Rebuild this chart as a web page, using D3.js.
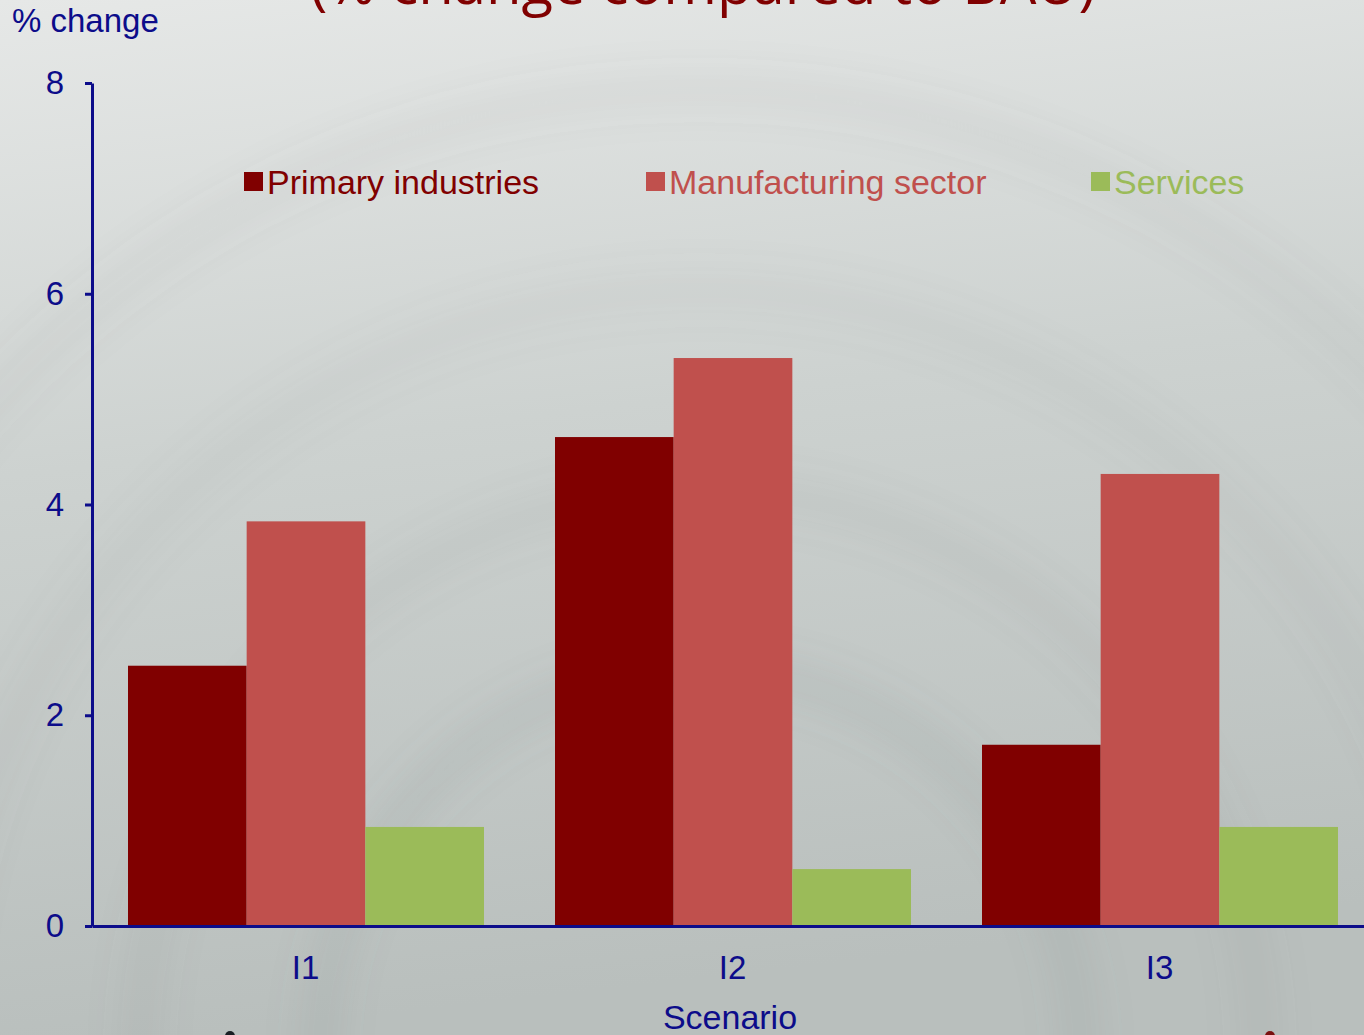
<!DOCTYPE html>
<html>
<head>
<meta charset="utf-8">
<script src="https://cdn.jsdelivr.net/npm/d3@7"></script>
<style>
  html, body { margin: 0; padding: 0; overflow: hidden; }
  svg { display: block; font-family: "Liberation Sans", Arial, sans-serif; }
</style>
</head>
<body>
<svg id="chart"></svg>
<script>
const scenarios = ["I1", "I2", "I3"];
const seriesNames = ["Primary industries", "Manufacturing sector", "Services"];
const primary = [2.47, 4.64, 1.72];
const manufacturing = [3.84, 5.39, 4.29];
const services = [0.94, 0.54, 0.94];
const yTicks = [0, 2, 4, 6, 8];
const colors = ["#800000", "#c0504d", "#9bbb59"];

const width = 1364;
const height = 1035;
const navy = "#0c0c8a";

const svg = d3.select("#chart").attr("width", width).attr("height", height);
const defs = svg.append("defs");

// slide background: light grey fading darker towards the bottom
const bg = defs.append("linearGradient").attr("id", "bg").attr("x1", 0).attr("y1", 0).attr("x2", 0.15).attr("y2", 1);
bg.append("stop").attr("offset", "0%").attr("stop-color", "#e6e8e7");
bg.append("stop").attr("offset", "45%").attr("stop-color", "#cdd2d0");
bg.append("stop").attr("offset", "100%").attr("stop-color", "#b9bfbd");
svg.append("rect").attr("width", width).attr("height", height).attr("fill", "url(#bg)");

defs.append("filter").attr("id", "blur").append("feGaussianBlur").attr("stdDeviation", 18);
const swirl = svg.append("g").attr("filter", "url(#blur)").attr("fill", "none");
[[700, 1050, 380, 0.10], [700, 1050, 560, 0.07], [700, 1050, 760, 0.06], [700, 1050, 960, 0.05]].forEach(([cx, cy, r, o]) => {
  swirl.append("circle").attr("cx", cx).attr("cy", cy).attr("r", r)
    .attr("stroke", "#6f7876").attr("stroke-width", 40).attr("stroke-opacity", o);
});

const y = d3.scaleLinear().domain([0, 8]).range([926, 83]);
const x0 = d3.scaleBand().domain(scenarios).range([92, 1373]);
const x1 = d3.scaleBand().domain(seriesNames).range([36, x0.bandwidth() - 35]);

const values = [primary, manufacturing, services];
const bars = svg.append("g");
seriesNames.forEach((name, si) => {
  bars.selectAll(null)
    .data(scenarios)
    .enter()
    .append("rect")
    .attr("x", d => x0(d) + x1(name))
    .attr("y", (d, i) => y(values[si][i]))
    .attr("width", x1.bandwidth())
    .attr("height", (d, i) => y(0) - y(values[si][i]))
    .attr("fill", colors[si]);
});

// axes
const yAxis = svg.append("g")
  .attr("transform", "translate(92,0)")
  .call(d3.axisLeft(y).tickValues(yTicks).tickSize(7).tickSizeOuter(0).tickPadding(21));
yAxis.select(".domain").attr("stroke", navy).attr("stroke-width", 3);
yAxis.selectAll(".tick line").attr("stroke", navy).attr("stroke-width", 3);
yAxis.selectAll(".tick text").attr("fill", navy).attr("font-size", 33).attr("font-family", "Liberation Sans, Arial, sans-serif");

const xAxis = svg.append("g")
  .attr("transform", "translate(0,926)")
  .call(d3.axisBottom(x0).tickSize(0).tickSizeOuter(0).tickPadding(30));
xAxis.select(".domain").attr("stroke", navy).attr("stroke-width", 3);
xAxis.selectAll(".tick text").attr("fill", navy).attr("font-size", 33).attr("font-family", "Liberation Sans, Arial, sans-serif");

svg.append("text").attr("x", 12).attr("y", 32).attr("fill", navy).attr("font-size", 33).text("% change");
svg.append("text").attr("x", 730).attr("y", 1029).attr("text-anchor", "middle").attr("fill", navy).attr("font-size", 34).text("Scenario");

// title (cut off at the top of the slide)
svg.append("text").attr("x", 703).attr("y", 4).attr("text-anchor", "middle")
  .attr("fill", "#800000").attr("font-size", 58).attr("font-family", "Open Sans, sans-serif")
  .text("(% change compared to BAU)");

// legend
const legendX = [244, 646, 1091];
const legend = svg.append("g");
seriesNames.forEach((name, i) => {
  legend.append("rect").attr("x", legendX[i]).attr("y", 172).attr("width", 19).attr("height", 19).attr("fill", colors[i]);
  legend.append("text").attr("x", legendX[i] + 23).attr("y", 194).attr("fill", colors[i])
    .attr("font-size", 34).text(name);
});

// bits of slide decoration peeking in at the bottom edge
svg.append("circle").attr("cx", 230).attr("cy", 1036).attr("r", 5).attr("fill", "#1a1f24");
svg.append("circle").attr("cx", 1270).attr("cy", 1036).attr("r", 5).attr("fill", "#7a1010");
</script>
</body>
</html>
